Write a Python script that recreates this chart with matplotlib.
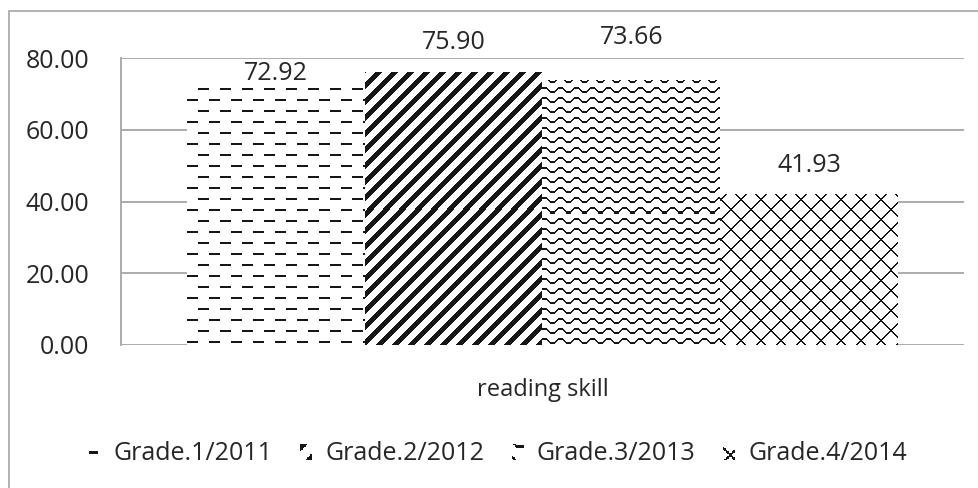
import numpy as np
import matplotlib
matplotlib.use("Agg")
import matplotlib.pyplot as plt
from matplotlib.patches import Patch, Rectangle
from matplotlib.legend_handler import HandlerBase
from matplotlib.image import BboxImage
from matplotlib.transforms import Bbox, TransformedBbox

# ---- data ----
category = "reading skill"
series_names = ["Grade.1/2011", "Grade.2/2012", "Grade.3/2013", "Grade.4/2014"]
values = [72.92, 75.90, 73.66, 41.93]
yticks = [0, 20, 40, 60, 80]
pattern_kinds = ["dash", "diag", "wave", "lattice"]
label_offsets_px = [10, 30, 43, 29]   # label centre above bar top (pixels)

INK = np.array([0.09, 0.09, 0.09])
GRID = "#a6a6a6"
FONT = ["Open Sans", "DejaVu Sans"]

W, H = 979, 488
fig = plt.figure(figsize=(W / 100, H / 100), dpi=100)

# outer chart border (only top/left visible in crop)
fig.patches.append(Rectangle((9 / W, -0.1), 1.2, 1 - 11 / H + 0.1, transform=fig.transFigure,
                             fill=False, edgecolor=GRID, linewidth=1.2))

ax = fig.add_axes([121 / W, (H - 345) / H, (964 - 121) / W, (345 - 58) / H])
ax.set_xlim(-0.5, 0.5)
ax.set_ylim(0, 80)


def texture(kind, i, j):
    """i, j : global pixel row/col grids; returns boolean ink mask"""
    if kind == "dash":
        r = i % 11
        shift = ((i // 11) % 2) * 11
        return (r < 2) & (((j + shift) % 22) < 11)
    if kind == "diag":
        return ((i + j) % 16) < 7
    if kind == "wave":
        off = np.round(2.5 * np.cos(2 * np.pi * j / 16.0)).astype(int)
        return ((i + off) % 10) < 2
    if kind == "lattice":
        return (((i + j) % 20) < 2) | (((j - i) % 20) < 2)
    return np.zeros_like(i, dtype=bool)


def tex_rgb(kind, h, w, top=0, left=0):
    ii, jj = np.mgrid[top:top + h, left:left + w]
    m = texture(kind, ii, jj)
    img = np.ones((h, w, 3))
    img[m] = INK
    return img


n = len(values)
bw = 0.843 / n
xs = [(k - (n - 1) / 2) * bw for k in range(n)]

# gridlines
ax.set_yticks(yticks)
ax.set_yticklabels([f"{v:.2f}" for v in yticks])
ax.yaxis.grid(True, color=GRID, linewidth=1.3)
ax.set_axisbelow(True)
for s in ["top", "right", "bottom"]:
    ax.spines[s].set_visible(False)
ax.spines["left"].set_color(GRID)
ax.spines["left"].set_linewidth(1.3)
ax.tick_params(axis="y", length=0, pad=23, labelsize=18, labelcolor="#262626")
ax.set_xticks([0])
ax.set_xticklabels([category])
ax.tick_params(axis="x", length=0, pad=24, labelsize=17, labelcolor="#262626")
for lab in ax.get_xticklabels() + ax.get_yticklabels():
    lab.set_family(FONT)

bars = ax.bar(xs, values, width=bw, color="white", edgecolor="none", zorder=2)

fig.canvas.draw()
for b, kind in zip(bars, pattern_kinds):
    x0, y0 = b.get_x(), b.get_y()
    x1, y1 = x0 + b.get_width(), y0 + b.get_height()
    p0 = ax.transData.transform((x0, y0))
    p1 = ax.transData.transform((x1, y1))
    wpx = int(round(p1[0] - p0[0]))
    hpx = int(round(p1[1] - p0[1]))
    top = int(round(H - p1[1]))
    left = int(round(p0[0]))
    ax.imshow(tex_rgb(kind, hpx, wpx, top, left), extent=(x0, x1, y0, y1),
              aspect="auto", interpolation="nearest", zorder=3, origin="upper")
ax.set_xlim(-0.5, 0.5)
ax.set_ylim(0, 80)

for x, v, off in zip(xs, values, label_offsets_px):
    ax.annotate(f"{v:.2f}", (x, v), xytext=(0, off), textcoords="offset pixels",
                ha="center", va="center", fontsize=18, color="#262626",
                family=FONT, zorder=5, annotation_clip=False)

legend_phase = {"dash": (-5, 5), "diag": (2, 0), "wave": (1, 3), "lattice": (3, 6)}


class TexHandler(HandlerBase):
    def __init__(self, kind):
        super().__init__()
        self.kind = kind

    def create_artists(self, legend, orig_handle, xdescent, ydescent, width, height,
                       fontsize, trans):
        bb = TransformedBbox(Bbox.from_bounds(-xdescent, -ydescent, width, height), trans)
        im = BboxImage(bb, interpolation="nearest")
        t, l = legend_phase[self.kind]
        im.set_data(tex_rgb(self.kind, 11, 8, t, l))
        return [im]


handles = [Patch(facecolor="white", label=nm) for nm in series_names]
hmap = {h: TexHandler(k) for h, k in zip(handles, pattern_kinds)}
leg = fig.legend(handles=handles, handler_map=hmap, loc="center",
                 bbox_to_anchor=(498 / W, 1 - 454 / H), ncol=4, frameon=False,
                 prop={"family": FONT, "size": 18}, handlelength=0.45,
                 handleheight=0.6, handletextpad=0.55, columnspacing=1.1)
for t in leg.get_texts():
    t.set_color("#262626")

fig.savefig("out.png", dpi=100)
